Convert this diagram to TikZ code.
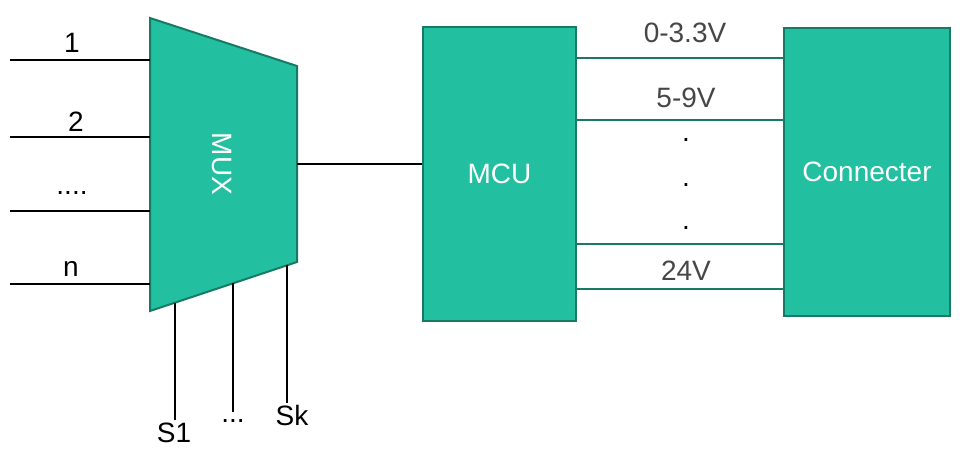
\documentclass[tikz,border=0pt]{standalone}
\usepackage{fontspec}
\setmainfont{Liberation Sans}
\usetikzlibrary{calc}
\definecolor{boxfill}{RGB}{34,191,161}
\definecolor{boxline}{RGB}{24,122,100}
\definecolor{labelgray}{RGB}{70,70,70}
\newcommand{\inputdots}{....}
\tikzset{
	block/.style={draw=boxline,fill=boxfill,line width=1.5pt,text=white,font=\fontsize{21}{25}\selectfont,inner sep=0pt},
	wire/.style={line width=1.5pt,draw=black},
	bus/.style={line width=1.5pt,draw=boxline},
	lbl/.style={font=\fontsize{21}{25}\selectfont,inner sep=0pt},
	vlbl/.style={lbl,text=labelgray}
	}

\begin{document}
\begin{tikzpicture}[x=0.75pt,y=-0.75pt]
      \useasboundingbox (0,0) rectangle (962,458);
      % multiplexer
      \draw[block] (150,18) coordinate (muxtl) -- (297,66) coordinate (muxtr)
        -- (297,262) coordinate (muxbr) -- (150,311) coordinate (muxbl) -- cycle;
      \node[lbl,text=white,rotate=-90] (muxname) at (222,164) {MUX};
      % blocks
      \node[block,minimum width=114.75pt,minimum height=220.5pt] (mcu) at (499.5,174) {MCU};
      \node[block,minimum width=124.5pt,minimum height=216pt] (con) at (867,172) {Connecter};
      % inputs
      \foreach \y/\lx/\ly/\t [count=\i] in {60/72/43/1, 137/76/122/2, 211/72/193/\inputdots, 284/71/269/n}{
        \coordinate (in\i) at (10,\y);
        \draw[wire] (in\i) -- (in\i -| muxtl);
        \node[lbl] (inlbl\i) at (\lx,\ly) {\t};
      }
      % output to MCU
      \coordinate (muxout) at (297,164);
      \draw[wire] (muxout) -- (muxout -| mcu.west);
      % select lines
      \coordinate (sel1) at ($(muxbl)!0.17!(muxbr)$);
      \coordinate (sel2) at ($(muxbl)!0.565!(muxbr)$);
      \coordinate (sel3) at ($(muxbl)!0.932!(muxbr)$);
      \coordinate (selend1) at (175,420);
      \coordinate (selend2) at (233,412);
      \coordinate (selend3) at (287,403);
      \draw[wire] (sel1) -- (sel1 |- selend1);
      \draw[wire] (sel2) -- (sel2 |- selend2);
      \draw[wire] (sel3) -- (sel3 |- selend3);
      \node[lbl] (s1) at (174,433) {S1};
      \node[lbl] (sdots) at (233,421) {...};
      \node[lbl] (sk) at (292,415) {Sk};
      % voltage lines
      \foreach \y in {58,120,244,289}
        \draw[bus] (mcu.east |- 0,\y) -- (con.west |- 0,\y);
      \node[vlbl] (v1) at (685,33) {0-3.3V};
      \node[vlbl] (v2) at (686,98) {5-9V};
      \node[lbl] (d1) at (686,140) {.};
      \node[lbl] (d2) at (686,185) {.};
      \node[lbl] (d3) at (686,228) {.};
      \node[vlbl] (v3) at (686,271) {24V};
\end{tikzpicture}
\end{document}
